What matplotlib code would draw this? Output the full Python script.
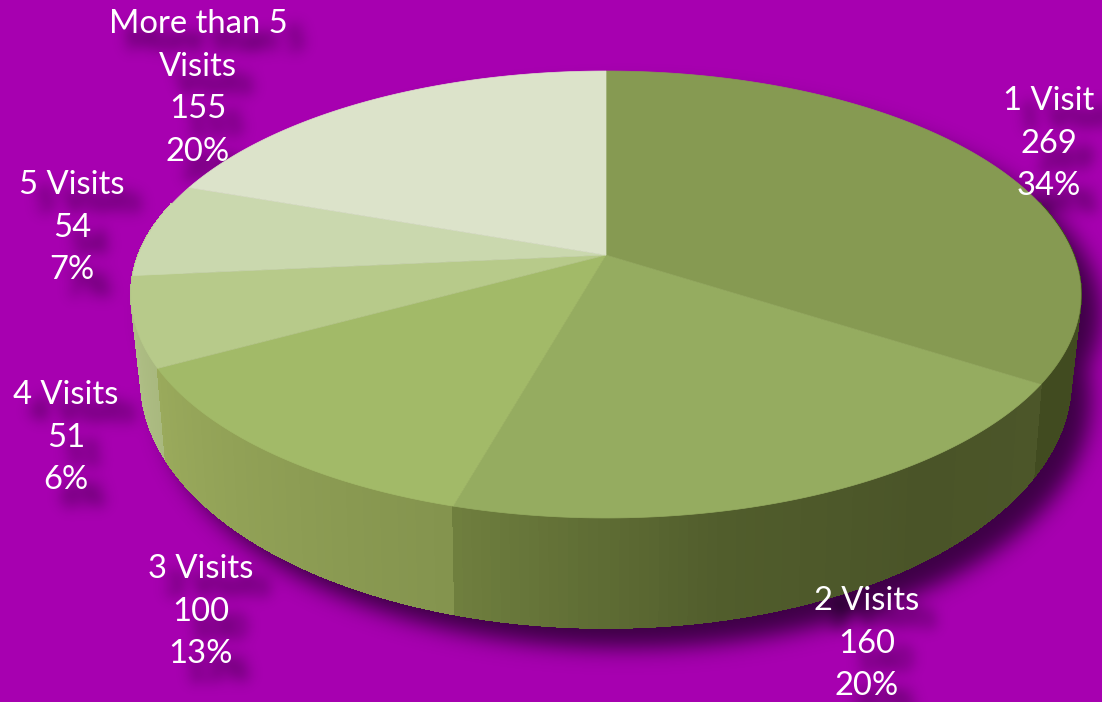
import numpy as np
import matplotlib
matplotlib.use('Agg')
import matplotlib.pyplot as plt

names = ['1 Visit', '2 Visits', '3 Visits', '4 Visits', '5 Visits', 'More than 5\nVisits']
values = [269, 160, 100, 51, 54, 155]
percents = [34, 20, 13, 6, 7, 20]

top_colors = ['#869a52', '#95ac60', '#a2ba68', '#b7ca8a', '#cad8ae', '#dce3ca']
# wall colour stops along each slice (clockwise)
wall_stops = [[(0.0, '#414b20'), (1.0, '#414b20')],
              [(0.0, '#4c5629'), (0.3, '#4a5428'), (0.62, '#515d2c'), (1.0, '#70803f')],
              [(0.0, '#84944e'), (1.0, '#9aaa5c')],
              [(0.0, '#a9b97f'), (1.0, '#b5c48c')],
              [(0.0, '#b5c48c'), (1.0, '#c5d2a5')],
              [(0.0, '#d5ddc0'), (1.0, '#d5ddc0')]]

bg = '#a700b0'
label_pos = [(1049, 101), (867, 601), (201, 569), (66, 395), (72, 185), (198, 24)]
line_step = 42.7
font = 'Lato'
font_size = 23.6
W, H = 1102, 702


# perspective of the top and bottom rim of the disc
def rim(theta, rx, ry, k, cy):
    u = np.sin(theta)
    v = np.cos(theta)
    w = 1 + k * v
    return 606 + rx * u / w, cy - ry * v / w


def top(theta):
    return rim(theta, 467.5, 216.5, 0.1767, 255)


def bottom(theta):
    return rim(theta, 457, 239.5, 0.185, 334)


def wall_color(i, t):
    stops = wall_stops[i]
    for (t0, c0), (t1, c1) in zip(stops[:-1], stops[1:]):
        if t <= t1:
            a = np.array(matplotlib.colors.to_rgb(c0))
            b = np.array(matplotlib.colors.to_rgb(c1))
            return tuple(a + (b - a) * (t - t0) / (t1 - t0))
    return stops[-1][1]


def new_canvas(face):
    f = plt.figure(figsize=(W / 100, H / 100), dpi=100, facecolor=face)
    a = f.add_axes([0, 0, 1, 1])
    a.set_xlim(0, W)
    a.set_ylim(H, 0)
    a.axis('off')
    return f, a


def label_lines():
    out = []
    for name, v, p, pos in zip(names, values, percents, label_pos):
        lines = name.split('\n') + [str(v), '%d%%' % p]
        for j, line in enumerate(lines):
            out.append((pos[0], pos[1] + j * line_step, line))
    return out


def grab(f):
    f.canvas.draw()
    m = np.asarray(f.canvas.buffer_rgba())[:, :, 0] / 255.0
    plt.close(f)
    return m


# move the mask by dx, dy and gaussian blur it, no wrap round the edges
def soft(mask, dx, dy, sigma):
    pad = 80
    big = np.pad(mask, pad)
    big = np.roll(np.roll(big, dy, axis=0), dx, axis=1)
    fy = np.fft.fftfreq(big.shape[0])[:, None]
    fx = np.fft.rfftfreq(big.shape[1])[None, :]
    g = np.exp(-2 * (np.pi * sigma) ** 2 * (fx ** 2 + fy ** 2))
    out = np.fft.irfft2(np.fft.rfft2(big) * g, s=big.shape)
    return np.clip(out[pad:-pad, pad:-pad], 0, 1)


edges = np.radians(np.cumsum([0] + values) / sum(values) * 360)

# soft shadows: pie outline and label text, blurred offscreen
th = np.linspace(0, 2 * np.pi, 721)
tx, ty = top(th)
bx, by = bottom(th)
f1, a1 = new_canvas('black')
a1.fill(tx, ty, color='white', lw=0)
a1.fill(bx, by, color='white', lw=0)
a1.fill([tx[180], tx[540], bx[540], bx[180]], [ty[180], ty[540], by[540], by[180]], color='white', lw=0)
pie_mask = soft(grab(f1), 20, 20, 11)

f2, a2 = new_canvas('black')
for x, y, line in label_lines():
    a2.text(x, y, line, ha='center', va='center', color='white', family=font, fontsize=font_size)
text_mask = soft(grab(f2), 17, 17, 7)

fig, ax = new_canvas(bg)
alpha = np.clip(0.66 * pie_mask + 0.8 * text_mask, 0, 1)
shadow = np.zeros((H, W, 4))
shadow[:, :, 0] = 0.03
shadow[:, :, 2] = 0.06
shadow[:, :, 3] = alpha
ax.imshow(shadow, extent=(0, W, H, 0), aspect='auto', interpolation='nearest', zorder=1)
ax.set_xlim(0, W)
ax.set_ylim(H, 0)

# side wall, back to front
quads = []
for i in range(len(values)):
    a0, a1_ = edges[i], edges[i + 1]
    n = max(int(np.degrees(a1_ - a0)), 2)
    steps = np.linspace(a0, a1_, n + 1)
    for j in range(n):
        mid = (steps[j] + steps[j + 1]) / 2
        if np.cos(mid) < 0.25:
            quads.append((np.cos(mid), i, j / n, steps[j], steps[j + 1]))
quads.sort(key=lambda q: -q[0])
for _, i, t, a, b in quads:
    xa, ya = top(a)
    xb, yb = top(b)
    xc, yc = bottom(b)
    xd, yd = bottom(a)
    c = wall_color(i, t)
    ax.fill([xa, xb, xc, xd], [ya, yb, yc, yd], facecolor=c, edgecolor=c, lw=0.8,
            antialiased=False, zorder=3)
    ax.plot([xd, xc], [yd, yc], color=c, lw=1.0, solid_capstyle='round', zorder=3)

# top of the pie
for i in range(len(values)):
    arc = np.linspace(edges[i], edges[i + 1], 120)
    x, y = top(arc)
    ax.fill(np.r_[606, x], np.r_[255, y], color=top_colors[i], lw=0.5, zorder=4)

for x, y, line in label_lines():
    ax.text(x, y, line, ha='center', va='center', color='white', family=font,
            fontsize=font_size, zorder=5)

fig.savefig('out.png', dpi=100, facecolor=bg)
